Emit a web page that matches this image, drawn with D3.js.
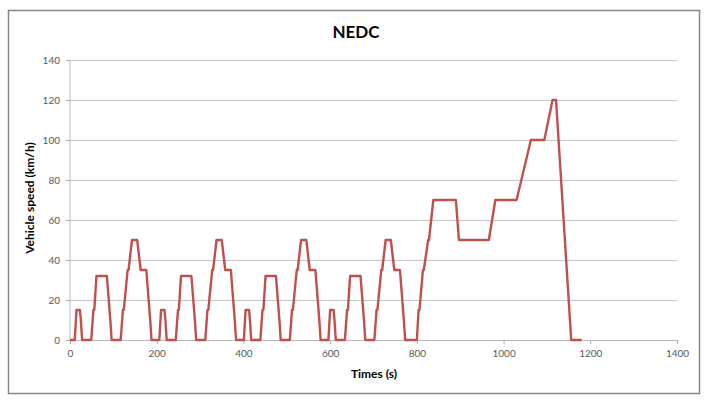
<!DOCTYPE html>
<html>
<head>
<meta charset="utf-8">
<script src="https://cdn.jsdelivr.net/npm/d3@7"></script>
<style>
  body { margin: 0; background: #fff; }
  text { font-family: Lato, "Open Sans", sans-serif; }
  .tick text { fill: #595959; font-size: 10px; }
  .chart-title { font-size: 17px; font-weight: bold; }
  .axis-label { font-size: 12px; font-weight: bold; }
</style>
</head>
<body>
<svg width="714" height="406"></svg>
<script>
// NEDC speed trace: 4 x ECE-15 urban cycles then the EUDC part
const times = [
  0, 11, 15, 23, 25, 28, 49, 54, 56, 61, 85, 93, 96, 117, 122, 124, 133, 135, 143, 155, 163, 176, 185, 188,
  195, 206, 210, 218, 220, 223, 244, 249, 251, 256, 280, 288, 291, 312, 317, 319, 328, 330, 338, 350, 358, 371, 380, 383,
  390, 401, 405, 413, 415, 418, 439, 444, 446, 451, 475, 483, 486, 507, 512, 514, 523, 525, 533, 545, 553, 566, 575, 578,
  585, 596, 600, 608, 610, 613, 634, 639, 641, 646, 670, 678, 681, 702, 707, 709, 718, 720, 728, 740, 748, 761, 770, 773,
  780, 800, 804, 806, 814, 816, 826, 828, 838, 890, 897, 966, 981, 1030, 1063, 1094, 1113, 1121, 1156, 1180
];
const speeds = [
  0, 0, 15, 15, 10, 0, 0, 15, 15, 32, 32, 10, 0, 0, 15, 15, 35, 35, 50, 50, 35, 35, 10, 0,
  0, 0, 15, 15, 10, 0, 0, 15, 15, 32, 32, 10, 0, 0, 15, 15, 35, 35, 50, 50, 35, 35, 10, 0,
  0, 0, 15, 15, 10, 0, 0, 15, 15, 32, 32, 10, 0, 0, 15, 15, 35, 35, 50, 50, 35, 35, 10, 0,
  0, 0, 15, 15, 10, 0, 0, 15, 15, 32, 32, 10, 0, 0, 15, 15, 35, 35, 50, 50, 35, 35, 10, 0,
  0, 0, 15, 15, 35, 35, 50, 50, 70, 70, 50, 50, 70, 70, 100, 100, 120, 120, 0, 0
];
const xTicks = [0, 200, 400, 600, 800, 1000, 1200, 1400];
const yTicks = [0, 20, 40, 60, 80, 100, 120, 140];

const svg = d3.select('svg');
const width = +svg.attr('width');
const height = +svg.attr('height');

const margin = { top: 60, left: 70, right: 37, bottom: 66 };
const innerWidth = width - margin.left - margin.right;
const innerHeight = height - margin.top - margin.bottom;

// chart frame
svg.append('rect')
  .attr('x', 8.5).attr('y', 10.5)
  .attr('width', 691).attr('height', 383)
  .attr('fill', '#fff')
  .attr('stroke', '#868686')
  .attr('stroke-width', 1.5);

const data = times.map((t, i) => ({ t: t, v: speeds[i] }));

const xScale = d3.scaleLinear().domain([0, 1400]).range([0, innerWidth]);
const yScale = d3.scaleLinear().domain([0, 140]).range([innerHeight, 0]);

const g = svg.append('g')
  .attr('transform', `translate(${margin.left},${margin.top})`);

// horizontal gridlines + y axis
const yAxisGroup = g.append('g')
  .call(d3.axisLeft(yScale).tickValues(yTicks).tickSize(-innerWidth).tickPadding(10));
yAxisGroup.select('.domain').remove();
yAxisGroup.selectAll('.tick line').attr('stroke', '#c6c6c6');
yAxisGroup.selectAll('.tick').append('line')
  .attr('x1', -4).attr('x2', 0)
  .attr('stroke', '#b0b0b0');

g.append('line')
  .attr('x1', 0).attr('x2', 0)
  .attr('y1', 0).attr('y2', innerHeight)
  .attr('stroke', '#b8b8b8');

const xAxisGroup = g.append('g')
  .attr('transform', `translate(0,${innerHeight})`)
  .call(d3.axisBottom(xScale).tickValues(xTicks).tickFormat(d3.format('d')).tickSize(4).tickPadding(6));
xAxisGroup.select('.domain').attr('stroke', '#b8b8b8');
xAxisGroup.selectAll('.tick line').attr('stroke', '#b0b0b0');

// speed trace
const line = d3.line()
  .x(d => xScale(d.t))
  .y(d => yScale(d.v));

g.append('path')
  .datum(data)
  .attr('d', line)
  .attr('fill', 'none')
  .attr('stroke', '#c0504d')
  .attr('stroke-width', 2.4)
  .attr('stroke-linejoin', 'round');

svg.append('text')
  .attr('class', 'chart-title')
  .attr('x', 356).attr('y', 38)
  .attr('text-anchor', 'middle')
  .text('NEDC');

svg.append('text')
  .attr('class', 'axis-label')
  .attr('x', 374).attr('y', 378)
  .attr('text-anchor', 'middle')
  .text('Times (s)');

svg.append('text')
  .attr('class', 'axis-label')
  .attr('transform', 'translate(34,198) rotate(-90)')
  .attr('text-anchor', 'middle')
  .text('Vehicle speed (km/h)');
</script>
</body>
</html>
